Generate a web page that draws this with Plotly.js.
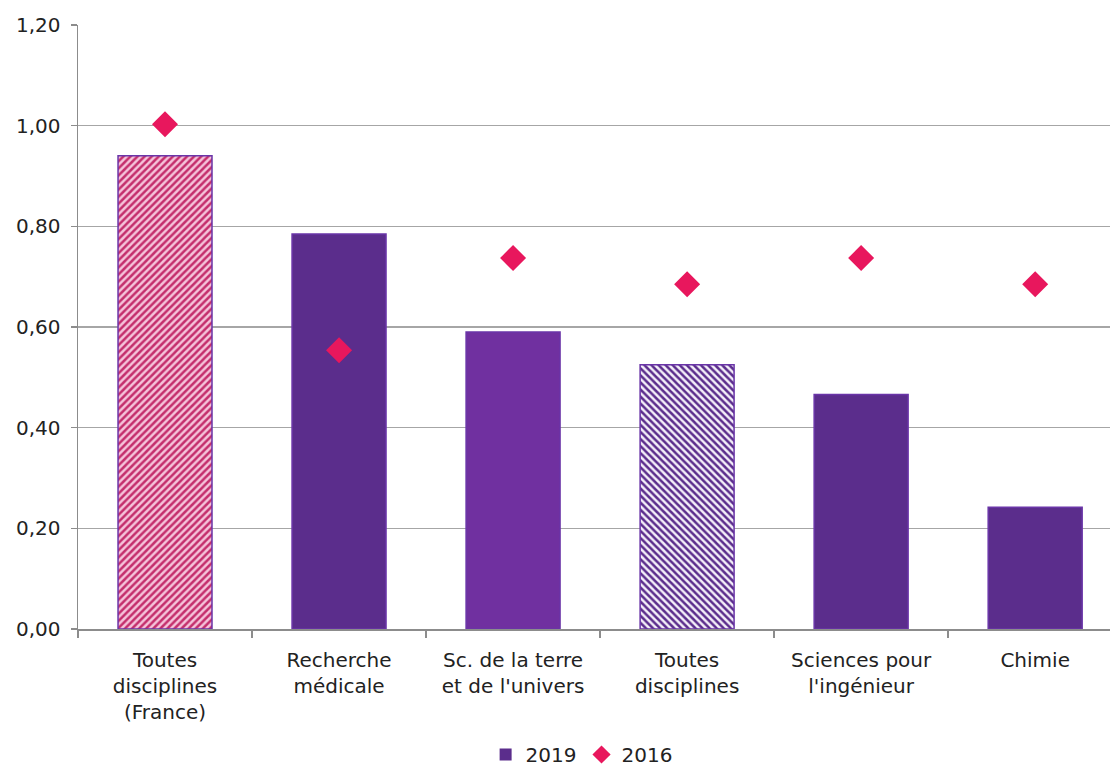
<!DOCTYPE html>
<html><head><meta charset="utf-8">
<script src="https://cdn.plot.ly/plotly-3.0.1.min.js"></script>
<style>html,body{margin:0;padding:0;background:#fff}#c{width:1111px;height:774px}</style>
</head><body><div id="c"></div>
<script>
var categories = ["Toutes<br>disciplines<br>(France)", "Recherche<br>médicale", "Sc. de la terre<br>et de l'univers", "Toutes<br>disciplines", "Sciences pour<br>l'ingénieur", "Chimie"];
var values2019 = [0.94, 0.785, 0.59, 0.525, 0.466, 0.242];
var values2016 = [1.003, 0.554, 0.737, 0.685, 0.737, 0.685];
var yTicks = [0, 0.2, 0.4, 0.6, 0.8, 1.0, 1.2];

var purple = "#5B2D8C";
var barColors = ["#F5C3DA", purple, "#7030A0", "#F4EFF9", purple, purple];
var patShapes = ["/", "", "", "\\", "", ""];
var patFg = ["#C42E6C", purple, "#7030A0", "#5B2D8C", purple, purple];

var traces = [];
categories.forEach(function (c, i) {
  traces.push({type: "bar", x: [c], y: [values2019[i]], width: 0.54, showlegend: false, hoverinfo: "y",
    marker: {color: barColors[i], line: {color: "#6A35A8", width: 1.5},
             pattern: {shape: patShapes[i], fgcolor: patFg[i], fgopacity: 1, size: 5, solidity: 0.5, fillmode: "overlay"}}});
});
traces.push({type: "scatter", mode: "markers", x: categories, y: values2016, name: "2016", showlegend: false,
   marker: {symbol: "diamond", size: 20, color: "#E8175D"}});
traces.push({type: "bar", x: [categories[0]], y: [null], name: "2019", marker: {color: purple}});
traces.push({type: "scatter", mode: "markers", x: [categories[0]], y: [null], name: "2016",
   marker: {symbol: "diamond", size: 14, color: "#E8175D"}});

var layout = {
  width: 1111, height: 774,
  margin: {l: 78, r: 1, t: 25, b: 144},
  paper_bgcolor: "#fff", plot_bgcolor: "#fff",
  separators: ",.",
  barmode: "overlay",
  font: {family: "DejaVu Sans, Noto Sans, sans-serif", size: 20, color: "#222"},
  xaxis: {type: "category", range: [-0.5, 5.43], showgrid: false, showline: true, linecolor: "#8C8C8C", linewidth: 1.5,
          ticks: "outside", tickson: "boundaries", ticklen: 7, tickcolor: "#8C8C8C", tickwidth: 1.5,
          ticklabelstandoff: 12, automargin: false,
          tickfont: {size: 20, color: "#222"}},
  yaxis: {range: [0, 1.2], tickvals: yTicks, tickformat: ".2f", showgrid: true, gridcolor: "#A6A6A6", gridwidth: 1.5,
          showline: true, linecolor: "#8C8C8C", linewidth: 1.5, ticks: "outside", ticklen: 6, automargin: false,
          ticklabelstandoff: 6,
          tickcolor: "#8C8C8C", tickwidth: 1.5, zeroline: false, tickfont: {size: 20, color: "#222"}},
  legend: {orientation: "h", x: 0.488, xanchor: "center", y: -0.238, yanchor: "bottom",
           font: {size: 20, color: "#222"}, itemwidth: 30, traceorder: "normal"},
  showlegend: true
};

Plotly.newPlot("c", traces, layout, {displayModeBar: false, staticPlot: true});
</script>
</body></html>
